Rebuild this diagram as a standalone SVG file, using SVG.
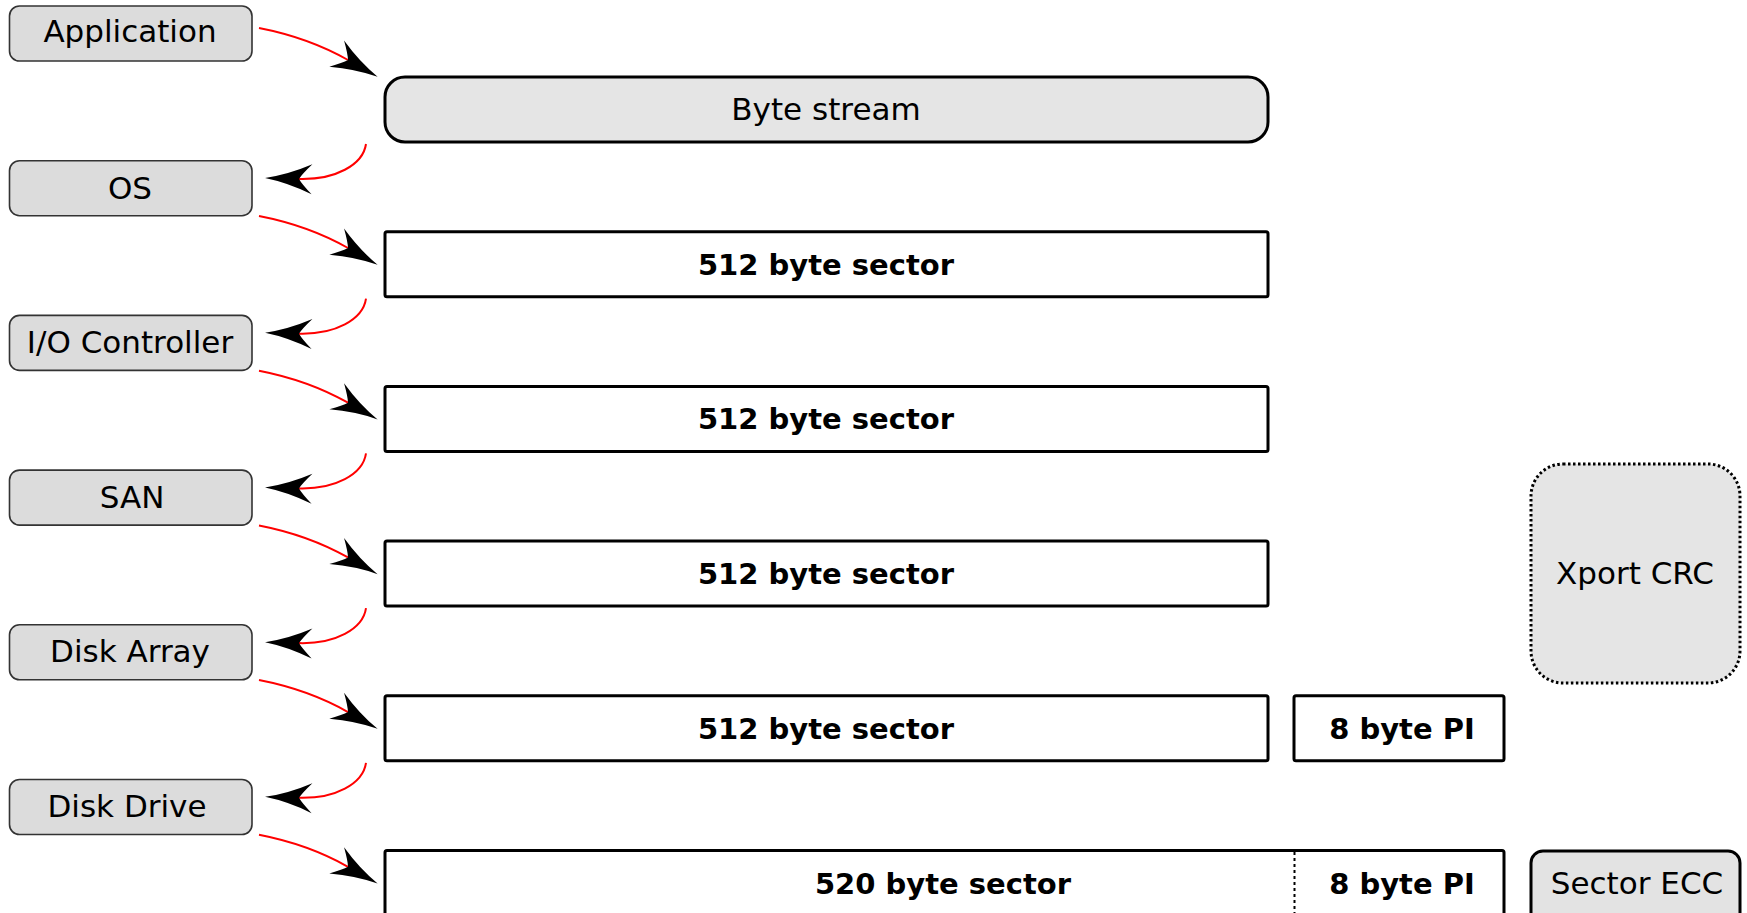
<svg xmlns="http://www.w3.org/2000/svg" width="1747" height="913" viewBox="0 0 1747 913">
<defs>
<style>
.lbox{fill:#dcdcdc;stroke:#333;stroke-width:1.6}
.ltxt{font-family:"DejaVu Sans",sans-serif;font-size:31px;fill:#000;text-anchor:middle}
.sec{fill:#fff;stroke:#000;stroke-width:3}
.btxt{font-family:"DejaVu Sans",sans-serif;font-size:29px;font-weight:bold;fill:#000;text-anchor:middle}
.conn{fill:none;stroke:#ff0000;stroke-width:2;marker-end:url(#ah)}
</style>
<marker id="ah" markerUnits="userSpaceOnUse" markerWidth="52" markerHeight="34" viewBox="-16 -17 52 34" refX="0" refY="0" orient="auto" overflow="visible">
<path d="M34,0 Q11,-4 -13,-15 Q-3,-5 0,0 Q-3,5 -13,15 Q11,4 34,0 Z" fill="#000"/>
</marker>
</defs>
<rect width="1747" height="913" fill="#fff"/>

<g id="application"><rect class="lbox" x="9.5" y="6" width="242.5" height="55" rx="10"/><text class="ltxt" x="130" y="42">Application</text></g>
<g id="os"><rect class="lbox" x="9.5" y="160.7" width="242.5" height="55" rx="10"/><text class="ltxt" x="130" y="198.5">OS</text></g>
<g id="io-controller"><rect class="lbox" x="9.5" y="315.4" width="242.5" height="55" rx="10"/><text class="ltxt" x="130" y="353">I/O Controller</text></g>
<g id="san"><rect class="lbox" x="9.5" y="470.1" width="242.5" height="55" rx="10"/><text class="ltxt" x="132" y="508">SAN</text></g>
<g id="disk-array"><rect class="lbox" x="9.5" y="624.8" width="242.5" height="55" rx="10"/><text class="ltxt" x="130" y="662">Disk Array</text></g>
<g id="disk-drive"><rect class="lbox" x="9.5" y="779.5" width="242.5" height="55" rx="10"/><text class="ltxt" x="127" y="817">Disk Drive</text></g>

<g id="byte-stream"><rect x="385" y="77" width="883" height="65" rx="20" fill="#e5e5e5" stroke="#000" stroke-width="3"/><text class="ltxt" x="826" y="119.5">Byte stream</text></g>
<g id="sector1"><rect class="sec" x="385" y="231.7" width="883" height="65" rx="2"/><text class="btxt" x="826" y="274.5">512 byte sector</text></g>
<g id="sector2"><rect class="sec" x="385" y="386.4" width="883" height="65" rx="2"/><text class="btxt" x="826" y="429.2">512 byte sector</text></g>
<g id="sector3"><rect class="sec" x="385" y="541.1" width="883" height="65" rx="2"/><text class="btxt" x="826" y="583.9">512 byte sector</text></g>
<g id="sector4"><rect class="sec" x="385" y="695.8" width="883" height="65" rx="2"/><text class="btxt" x="826" y="738.6">512 byte sector</text></g>
<g id="pi4"><rect class="sec" x="1294" y="695.8" width="210" height="65" rx="2"/><text class="btxt" x="1402" y="738.6">8 byte PI</text></g>
<g id="sector5"><rect class="sec" x="385" y="850.5" width="1119" height="90" rx="2"/><line x1="1294.5" y1="852" x2="1294.5" y2="913" stroke="#000" stroke-width="2" stroke-dasharray="3,3"/><text class="btxt" x="943" y="893.5">520 byte sector</text><text class="btxt" x="1402" y="893.5">8 byte PI</text></g>
<g id="xport-crc"><rect x="1531" y="464" width="209" height="219" rx="32" fill="#e5e5e5" stroke="#000" stroke-width="3" stroke-dasharray="2.5,2.5"/><text class="ltxt" x="1635" y="584">Xport CRC</text></g>
<g id="sector-ecc"><rect x="1531" y="851" width="209" height="90" rx="12" fill="#e3e3e3" stroke="#000" stroke-width="3"/><text class="ltxt" x="1637" y="893.5">Sector ECC</text></g>

<g id="connectors">
<path class="conn" d="M259,28 C295,35 325,47 348,60"/>
<path class="conn" d="M366,144 C363,165 335,180 299,179"/>
<path class="conn" d="M259,216 C295,223 325,235 348,248"/>
<path class="conn" d="M366,298.7 C363,319.7 335,334.7 299,333.7"/>
<path class="conn" d="M259,370.7 C295,377.7 325,389.7 348,402.7"/>
<path class="conn" d="M366,453.4 C363,474.4 335,489.4 299,488.4"/>
<path class="conn" d="M259,525.4 C295,532.4 325,544.4 348,557.4"/>
<path class="conn" d="M366,608.1 C363,629.1 335,644.1 299,643.1"/>
<path class="conn" d="M259,680.1 C295,687.1 325,699.1 348,712.1"/>
<path class="conn" d="M366,762.8 C363,783.8 335,798.8 299,797.8"/>
<path class="conn" d="M259,834.8 C295,841.8 325,853.8 348,866.8"/>
</g>
</svg>
